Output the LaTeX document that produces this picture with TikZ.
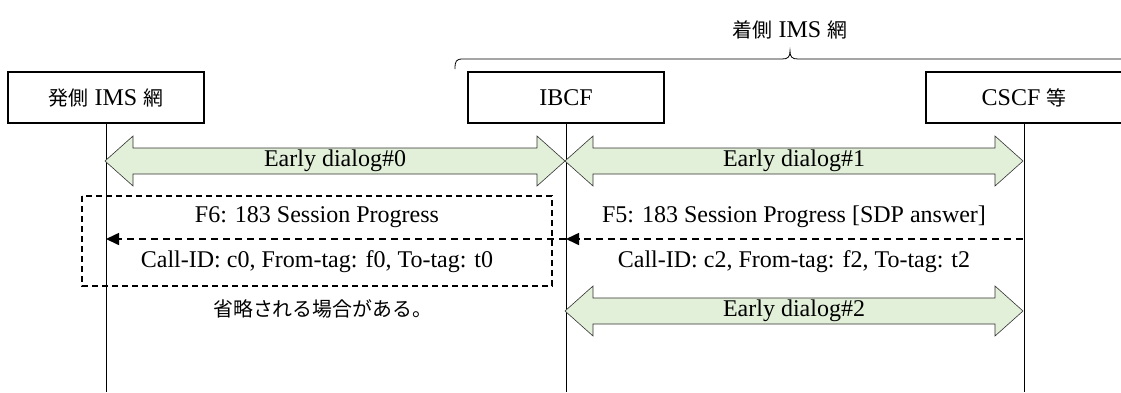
\documentclass[tikz,border=0pt]{standalone}
\usepackage{fontspec}
\setmainfont{Liberation Serif}
\newfontfamily\jp{Noto Sans CJK JP}[Scale=0.83]
\usetikzlibrary{arrows.meta,calc}
\definecolor{edgreen}{HTML}{E2EFD9}
\newcommand\blockarrow[4]{%
  \draw[blockarr] (#1,#3) -- (#1+28,#3-25) -- (#1+28,#3-13) -- (#2-28,#3-13) -- (#2-28,#3-25) -- (#2,#3)
    -- (#2-28,#3+25) -- (#2-28,#3+13) -- (#1+28,#3+13) -- (#1+28,#3+25) -- cycle;
  \node[lbl] at ({(#1+#2)/2},#3) {#4};}
\begin{document}
\begin{tikzpicture}[x=1pt,y=-1pt,
  font=\fontsize{24}{28}\selectfont,
  entity/.style={draw,line width=1.2pt,minimum width=196pt,minimum height=51pt,inner sep=0pt},
  life/.style={line width=1pt},
  blockarr/.style={draw=black!80,fill=edgreen,line width=0.6pt},
  lbl/.style={inner sep=0pt},
  msg/.style={line width=1.6pt,dash pattern=on 7pt off 5pt,-{Triangle[length=13pt,width=12pt]}},
  dashbox/.style={line width=1.5pt,dash pattern=on 6pt off 4pt}]
\useasboundingbox (0,0) rectangle (1121,392);
% entities
\node[entity] (A) at (106,97.5) {{\jp 発側} IMS {\jp 網}};
\node[entity] (B) at (566,97.5) {IBCF};
\node[entity] (C) at (1024,97.5) {CSCF {\jp 等}};
\coordinate (bot) at (0,392);
\draw[life] (A.south) -- (A.south |- bot);
\draw[life] (B.south) -- (B.south |- bot);
\draw[life] (C.south) -- (C.south |- bot);
% brace
\draw[line width=0.8pt] (455,69) .. controls (455,61) and (456,59) .. (463,59) -- (782,59)
  .. controls (788,59) and (790,57) .. (790,51) .. controls (790,57) and (792,59) .. (798,59) -- (1121,59);
\node[lbl] (T) at (790,30) {{\jp 着側} IMS {\jp 網}};
% early dialogs
\blockarrow{105}{565}{161}{Early dialog\#0}
\blockarrow{565}{1023}{161}{Early dialog\#1}
\blockarrow{565}{1023}{311}{Early dialog\#2}
% messages
\coordinate (f5s) at (1023,239);
\coordinate (f5e) at (566,239);
\coordinate (f6s) at (566,239);
\coordinate (f6e) at (106,239);
\draw[msg] (f5s) -- (f5e);
\draw[msg] (f6s) -- (f6e);
\node[lbl] (F5) at (794,217) {F5: 183 Session Progress [SDP answer]};
\node[lbl] (I2) at (794,262) {Call-ID: c2, From-tag: f2, To-tag: t2};
\node[lbl] (F6) at (317,217) {F6: 183 Session Progress};
\node[lbl] (I0) at (317,262) {Call-ID: c0, From-tag: f0, To-tag: t0};
\draw[dashbox] (82,196) rectangle (552,286);
\node[lbl,anchor=west] (N) at (213,309) {\jp 省略される場合がある。};
\end{tikzpicture}
\end{document}
